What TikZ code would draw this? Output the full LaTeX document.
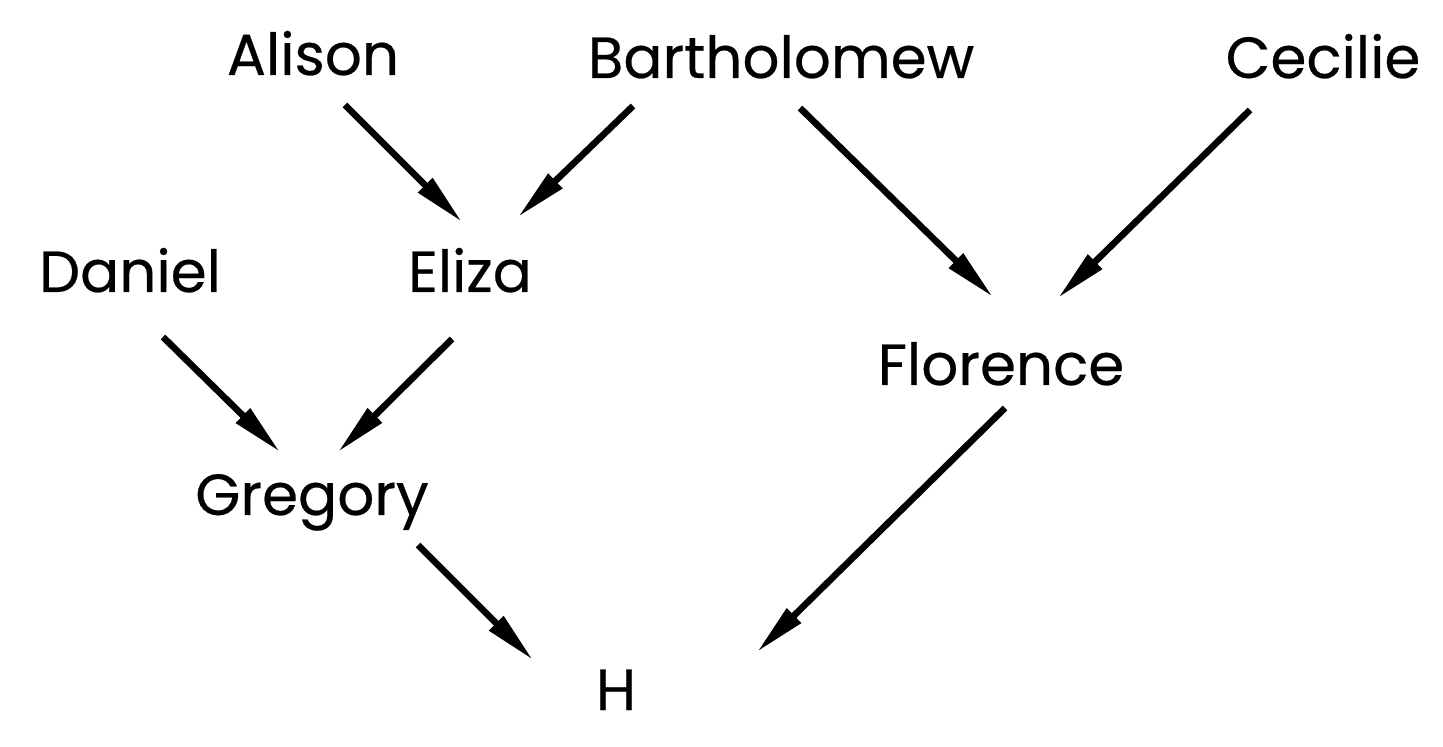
\documentclass[tikz,border=0pt]{standalone}
\usepackage{fontspec}
\setmainfont{Poppins}[FakeBold=0.4]
\usetikzlibrary{arrows.meta}
\begin{document}
\begin{tikzpicture}[x=0.5pt,y=-0.5pt,
  person/.style={anchor=base,inner sep=0pt,font=\fontsize{29}{32}\selectfont},
  arr/.style={line width=3.3pt,-{Triangle[length=26pt,width=9.5pt]}}]
\useasboundingbox (0,0) rectangle (1443,747);
\node[person] (A) at (313,75) {Alison};
\node[person] (B) at (781,78) {Bartholomew};
\node[person] (C) at (1323,78) {Cecilie};
\node[person] (D) at (130,292) {Daniel};
\node[person] (E) at (470,292) {Eliza};
\node[person] (F) at (1001,385) {Florence};
\node[person] (G) at (312,515) {Gregory};
\node[person] (H) at (616,710) {H};
\coordinate (A1) at (345,105); \coordinate (E1) at (462,222);
\coordinate (B1) at (633,106); \coordinate (E2) at (518,217);
\coordinate (B2) at (800,108); \coordinate (F1) at (993,297);
\coordinate (C1) at (1250,110); \coordinate (F2) at (1058,298);
\coordinate (D1) at (163,337); \coordinate (G1) at (280,452);
\coordinate (E3) at (452,339); \coordinate (G2) at (338,452);
\coordinate (G3) at (418,545); \coordinate (H1) at (533,660);
\coordinate (F3) at (1005,408); \coordinate (H2) at (757,652);
\draw[arr] (A1) -- (E1);
\draw[arr] (B1) -- (E2);
\draw[arr] (B2) -- (F1);
\draw[arr] (C1) -- (F2);
\draw[arr] (D1) -- (G1);
\draw[arr] (E3) -- (G2);
\draw[arr] (G3) -- (H1);
\draw[arr] (F3) -- (H2);
\end{tikzpicture}
\end{document}
